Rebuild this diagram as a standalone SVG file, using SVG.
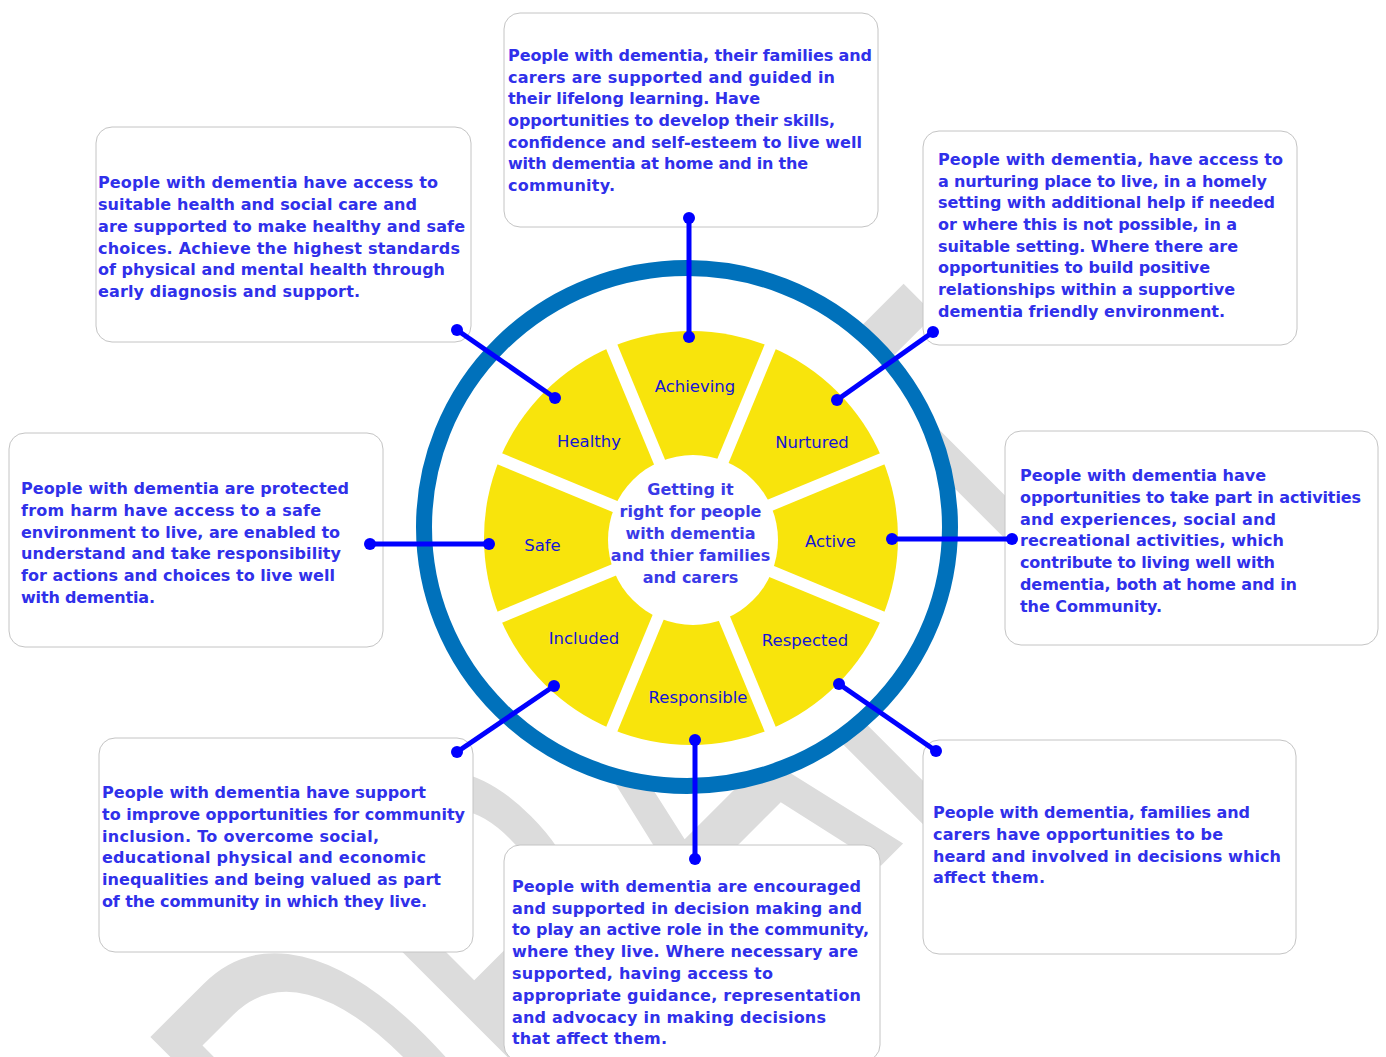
<svg xmlns="http://www.w3.org/2000/svg" width="1386" height="1057" viewBox="0 0 1386 1057">
  <defs>
    <style>
      .wm{font-family:"Liberation Sans",Arial,sans-serif;font-size:330px;fill:#dcdcdc}
      .box{fill:#ffffff;stroke:#c4c4c4;stroke-width:1}
      .bt{font-family:"DejaVu Sans",Verdana,sans-serif;font-weight:bold;font-size:16px;fill:#3030ea}
      .seg{font-family:"DejaVu Sans",Verdana,sans-serif;font-size:16.5px;fill:#1414d6;text-anchor:middle}
      .ctr{font-family:"DejaVu Sans",Verdana,sans-serif;font-weight:bold;font-size:16px;fill:#3a3ae8;text-anchor:middle}
      .link{stroke:#0000ff;stroke-width:5;fill:none;marker-start:url(#dot);marker-end:url(#dot)}
      .gap{stroke:#ffffff;stroke-width:12}
    </style>
    <marker id="dot" viewBox="-6 -6 12 12" markerWidth="12" markerHeight="12" markerUnits="userSpaceOnUse" refX="0" refY="0">
      <circle r="6" fill="#0000ff"/>
    </marker>
  </defs>

  <rect width="1386" height="1057" fill="#ffffff"/>

  <!-- background watermark -->
  <g id="watermark">
    <text class="wm" x="-654" y="709" transform="rotate(-45) scale(1,1.742)">DRAFT</text>
  </g>

  <!-- wheel -->
  <g id="wheel">
    <ellipse cx="687" cy="527" rx="263" ry="259" fill="#ffffff" stroke="#0071bb" stroke-width="16"/>
    <circle cx="691" cy="538" r="207" fill="#f8e40c"/>
    <line class="gap" x1="608.7" y1="339.4" x2="773.3" y2="736.6"/>
    <line class="gap" x1="773.3" y1="339.4" x2="608.7" y2="736.6"/>
    <line class="gap" x1="889.6" y1="455.7" x2="492.4" y2="620.3"/>
    <line class="gap" x1="889.6" y1="620.3" x2="492.4" y2="455.7"/>
    <circle cx="693" cy="540" r="85" fill="#ffffff"/>
  </g>

  <g id="hub">
    <text class="ctr" x="690.5" y="495">Getting it</text>
    <text class="ctr" x="690.5" y="517">right for people</text>
    <text class="ctr" x="690.5" y="539">with dementia</text>
    <text class="ctr" x="690.5" y="561">and thier families</text>
    <text class="ctr" x="690.5" y="583">and carers</text>
  </g>

  <g id="seg-achieving"><text class="seg" x="695" y="392">Achieving</text></g>
  <g id="seg-nurtured"><text class="seg" x="812" y="448">Nurtured</text></g>
  <g id="seg-active"><text class="seg" x="830.5" y="547">Active</text></g>
  <g id="seg-respected"><text class="seg" x="805" y="646">Respected</text></g>
  <g id="seg-responsible"><text class="seg" x="698" y="703">Responsible</text></g>
  <g id="seg-included"><text class="seg" x="584" y="644">Included</text></g>
  <g id="seg-safe"><text class="seg" x="542.5" y="551">Safe</text></g>
  <g id="seg-healthy"><text class="seg" x="589" y="447">Healthy</text></g>

  <!-- outcome boxes -->
  <g id="box-healthy">
    <rect class="box" x="96" y="127" width="375" height="215" rx="16"/>
    <text class="bt" x="98" y="188" textLength="340" lengthAdjust="spacing">People with dementia have access to</text>
    <text class="bt" x="98" y="210" textLength="319" lengthAdjust="spacing">suitable health and social care and</text>
    <text class="bt" x="98" y="232" textLength="367" lengthAdjust="spacing">are supported to make healthy and safe</text>
    <text class="bt" x="98" y="253.5" textLength="362" lengthAdjust="spacing">choices. Achieve the highest standards</text>
    <text class="bt" x="98" y="275" textLength="347" lengthAdjust="spacing">of physical and mental health through</text>
    <text class="bt" x="98" y="297" textLength="262" lengthAdjust="spacing">early diagnosis and support.</text>
  </g>

  <g id="box-achieving">
    <rect class="box" x="504" y="13" width="374" height="214" rx="16"/>
    <text class="bt" x="508" y="61" textLength="364" lengthAdjust="spacing">People with dementia, their families and</text>
    <text class="bt" x="508" y="82.7" textLength="327" lengthAdjust="spacing">carers are supported and guided in</text>
    <text class="bt" x="508" y="104.3" textLength="252" lengthAdjust="spacing">their lifelong learning. Have</text>
    <text class="bt" x="508" y="126" textLength="327" lengthAdjust="spacing">opportunities to develop their skills,</text>
    <text class="bt" x="508" y="147.7" textLength="354" lengthAdjust="spacing">confidence and self-esteem to live well</text>
    <text class="bt" x="508" y="169.3" textLength="300" lengthAdjust="spacing">with dementia at home and in the</text>
    <text class="bt" x="508" y="191" textLength="107" lengthAdjust="spacing">community.</text>
  </g>

  <g id="box-nurtured">
    <rect class="box" x="923" y="131" width="374" height="214" rx="16"/>
    <text class="bt" x="938" y="165" textLength="345" lengthAdjust="spacing">People with dementia, have access to</text>
    <text class="bt" x="938" y="186.7" textLength="329" lengthAdjust="spacing">a nurturing place to live, in a homely</text>
    <text class="bt" x="938" y="208.3" textLength="337" lengthAdjust="spacing">setting with additional help if needed</text>
    <text class="bt" x="938" y="230" textLength="299" lengthAdjust="spacing">or where this is not possible, in a</text>
    <text class="bt" x="938" y="251.7" textLength="300" lengthAdjust="spacing">suitable setting. Where there are</text>
    <text class="bt" x="938" y="273.3" textLength="272" lengthAdjust="spacing">opportunities to build positive</text>
    <text class="bt" x="938" y="295" textLength="297" lengthAdjust="spacing">relationships within a supportive</text>
    <text class="bt" x="938" y="316.7" textLength="287" lengthAdjust="spacing">dementia friendly environment.</text>
  </g>

  <g id="box-safe">
    <rect class="box" x="9" y="433" width="374" height="214" rx="16"/>
    <text class="bt" x="21" y="494" textLength="328" lengthAdjust="spacing">People with dementia are protected</text>
    <text class="bt" x="21" y="515.8" textLength="300" lengthAdjust="spacing">from harm have access to a safe</text>
    <text class="bt" x="21" y="537.6" textLength="319" lengthAdjust="spacing">environment to live, are enabled to</text>
    <text class="bt" x="21" y="559.4" textLength="320" lengthAdjust="spacing">understand and take responsibility</text>
    <text class="bt" x="21" y="581.2" textLength="314" lengthAdjust="spacing">for actions and choices to live well</text>
    <text class="bt" x="21" y="603" textLength="134" lengthAdjust="spacing">with dementia.</text>
  </g>

  <g id="box-active">
    <rect class="box" x="1005" y="431" width="373" height="214" rx="16"/>
    <text class="bt" x="1020" y="481" textLength="246" lengthAdjust="spacing">People with dementia have</text>
    <text class="bt" x="1020" y="502.8" textLength="341" lengthAdjust="spacing">opportunities to take part in activities</text>
    <text class="bt" x="1020" y="524.6" textLength="256" lengthAdjust="spacing">and experiences, social and</text>
    <text class="bt" x="1020" y="546.4" textLength="264" lengthAdjust="spacing">recreational activities, which</text>
    <text class="bt" x="1020" y="568.2" textLength="255" lengthAdjust="spacing">contribute to living well with</text>
    <text class="bt" x="1020" y="590" textLength="277" lengthAdjust="spacing">dementia, both at home and in</text>
    <text class="bt" x="1020" y="611.8" textLength="142" lengthAdjust="spacing">the Community.</text>
  </g>

  <g id="box-respected">
    <rect class="box" x="923" y="740" width="373" height="214" rx="16"/>
    <text class="bt" x="933" y="818" textLength="317" lengthAdjust="spacing">People with dementia, families and</text>
    <text class="bt" x="933" y="839.8" textLength="290" lengthAdjust="spacing">carers have opportunities to be</text>
    <text class="bt" x="933" y="861.6" textLength="348" lengthAdjust="spacing">heard and involved in decisions which</text>
    <text class="bt" x="933" y="883.4" textLength="112" lengthAdjust="spacing">affect them.</text>
  </g>

  <g id="box-included">
    <rect class="box" x="99" y="738" width="374" height="214" rx="16"/>
    <text class="bt" x="102" y="798" textLength="324" lengthAdjust="spacing">People with dementia have support</text>
    <text class="bt" x="102" y="819.8" textLength="363" lengthAdjust="spacing">to improve opportunities for community</text>
    <text class="bt" x="102" y="841.6" textLength="277" lengthAdjust="spacing">inclusion. To overcome social,</text>
    <text class="bt" x="102" y="863.4" textLength="324" lengthAdjust="spacing">educational physical and economic</text>
    <text class="bt" x="102" y="885.2" textLength="339" lengthAdjust="spacing">inequalities and being valued as part</text>
    <text class="bt" x="102" y="907" textLength="325" lengthAdjust="spacing">of the community in which they live.</text>
  </g>

  <g id="box-responsible">
    <rect class="box" x="504" y="845" width="376" height="216" rx="16"/>
    <text class="bt" x="512" y="891.7" textLength="349" lengthAdjust="spacing">People with dementia are encouraged</text>
    <text class="bt" x="512" y="913.5" textLength="350" lengthAdjust="spacing">and supported in decision making and</text>
    <text class="bt" x="512" y="935.3" textLength="357" lengthAdjust="spacing">to play an active role in the community,</text>
    <text class="bt" x="512" y="957.1" textLength="346" lengthAdjust="spacing">where they live. Where necessary are</text>
    <text class="bt" x="512" y="978.9" textLength="261" lengthAdjust="spacing">supported, having access to</text>
    <text class="bt" x="512" y="1000.7" textLength="349" lengthAdjust="spacing">appropriate guidance, representation</text>
    <text class="bt" x="512" y="1022.5" textLength="314" lengthAdjust="spacing">and advocacy in making decisions</text>
    <text class="bt" x="512" y="1044.3" textLength="155" lengthAdjust="spacing">that affect them.</text>
  </g>

  <!-- connectors from wheel segments to their boxes -->
  <g id="connectors">
    <path class="link" d="M689 218 V337"/>
    <path class="link" d="M457 330 L555 398"/>
    <path class="link" d="M933 332 L837 400"/>
    <path class="link" d="M370 544 H489"/>
    <path class="link" d="M892 539 H1012"/>
    <path class="link" d="M457 752 L554 686"/>
    <path class="link" d="M839 684 L936 751"/>
    <path class="link" d="M695 740 V859"/>
  </g>
</svg>
